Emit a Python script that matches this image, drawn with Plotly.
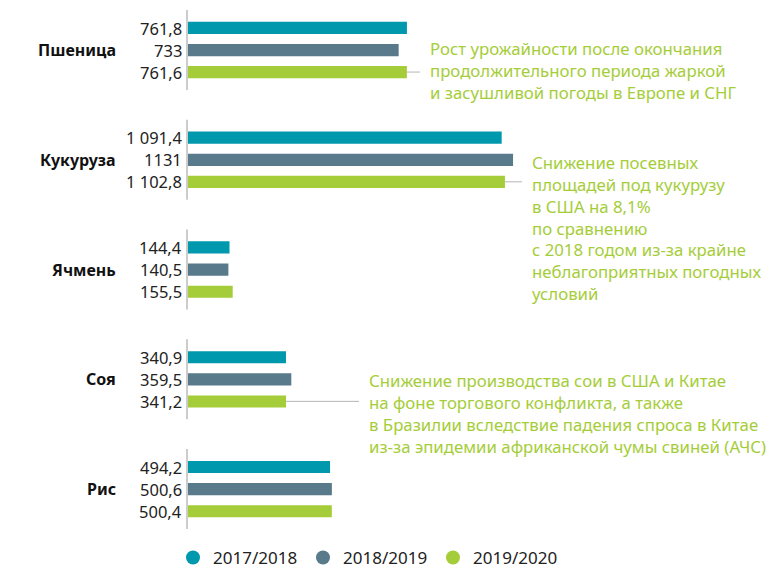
import plotly.graph_objects as go

categories = ["Пшеница", "Кукуруза", "Ячмень", "Соя", "Рис"]
series_names = ["2017/2018", "2018/2019", "2019/2020"]
v_2017 = [761.8, 1091.4, 144.4, 340.9, 494.2]
v_2018 = [733, 1131, 140.5, 359.5, 500.6]
v_2019 = [761.6, 1102.8, 155.5, 341.2, 500.4]
colors = ["#0098ad", "#587a8b", "#a5cd39"]
notes = {
    "Пшеница": "Рост урожайности после окончания<br>продолжительного периода жаркой<br>и засушливой погоды в Европе и СНГ",
    "Кукуруза": "Снижение посевных<br>площадей под кукурузу<br>в США на 8,1%<br>по сравнению<br>с 2018 годом из-за крайне<br>неблагоприятных погодных<br>условий",
    "Соя": "Снижение производства сои в США и Китае<br>на фоне торгового конфликта, а также<br>в Бразилии вследствие падения спроса в Китае<br>из-за эпидемии африканской чумы свиней (АЧС)",
}
note_x_px = {"Пшеница": 428, "Кукуруза": 530, "Соя": 367}
note_yshift = {"Пшеница": -20, "Кукуруза": -68, "Соя": -34}

W, H = 766, 569
L, R, T, B = 180, 0, 0, 25
PW = W - L - R
PH = H - T - B
X0_PX = 188            # pixel where value 0 sits
SCALE = 0.2874         # px per unit
XMIN = -(X0_PX - L) / SCALE
XMAX = (W - X0_PX) / SCALE
Y_TOP, Y_BOT = -0.456, 4.50
FONT = "Noto Sans"

def paper_x(px):
    return (px - L) / PW

def paper_y_of_index(idx):
    return 1 - (idx - Y_TOP) / (Y_BOT - Y_TOP)

def fmt(v):
    if v == int(v):
        return str(int(v))
    s = f"{v:,.1f}"
    return s.replace(",", " ").replace(".", ",")

fig = go.Figure()
all_series = [v_2017, v_2018, v_2019]
for name, vals, col in zip(series_names, all_series, colors):
    fig.add_trace(go.Bar(y=categories, x=vals, orientation="h", name=name,
                         marker=dict(color=col, line=dict(width=0)), showlegend=False))
for name, col in zip(series_names, colors):
    fig.add_trace(go.Scatter(x=[None], y=[None], mode="markers", name=name,
                             marker=dict(color=col, size=14, symbol="circle")))

ann = []
shapes = []
offsets = [22, 0, -22]
half_seg = 40 / PH  # half segment height in paper units
for i, cat in enumerate(categories):
    # per-category axis segment
    yc = paper_y_of_index(i)
    shapes.append(dict(type="line", xref="paper", yref="paper",
                       x0=paper_x(X0_PX - 1), x1=paper_x(X0_PX - 1),
                       y0=yc - half_seg, y1=yc + half_seg,
                       line=dict(color="#cccccc", width=2), layer="above"))
    ann.append(dict(x=paper_x(118), xref="paper", y=cat, yref="y", text=cat,
                    showarrow=False, xanchor="right", yanchor="middle",
                    font=dict(family=FONT, size=16, color="#111", weight="bold")))
    for k, vals in enumerate(all_series):
        ann.append(dict(x=0, xref="x", y=cat, yref="y", yshift=offsets[k], xshift=-4,
                        text=fmt(vals[i]), showarrow=False, xanchor="right", yanchor="middle",
                        font=dict(family=FONT, size=16.5, color="#222")))
    if cat in notes:
        ann.append(dict(x=paper_x(note_x_px[cat]), xref="paper", y=cat, yref="y",
                        yshift=note_yshift[cat], text=notes[cat], showarrow=False,
                        xanchor="left", yanchor="middle", align="left",
                        font=dict(family=FONT, size=16.8, color="#a5cd39")))
        shapes.append(dict(type="line", xref="x", yref="y", xsizemode="pixel",
                           xanchor=v_2019[i], x0=0,
                           x1=(note_x_px[cat] - X0_PX) - v_2019[i] * SCALE - 8,
                           ysizemode="pixel", yanchor=cat, y0=-22, y1=-22,
                           line=dict(color="#b5b5b5", width=1)))

fig.update_layout(
    width=W, height=H, margin=dict(l=L, r=R, t=T, b=B, autoexpand=False),
    paper_bgcolor="white", plot_bgcolor="white",
    barmode="group", bargap=0.395, bargroupgap=0.45,
    xaxis=dict(range=[XMIN, XMAX], visible=False),
    yaxis=dict(range=[Y_BOT, Y_TOP], showticklabels=False, ticks="",
               showline=False, showgrid=False, zeroline=False),
    annotations=ann, shapes=shapes,
    legend=dict(orientation="h", xref="container", yref="container",
                x=173 / W, xanchor="left", y=1 - 558 / H, yanchor="middle",
                font=dict(family=FONT, size=17, color="#222"),
                entrywidth=85, entrywidthmode="pixels", tracegroupgap=0),
    font=dict(family=FONT),
)
fig.write_html("out.html", config={"displayModeBar": False},
               post_script="document.body.style.margin='0';document.body.style.overflow='hidden';")
